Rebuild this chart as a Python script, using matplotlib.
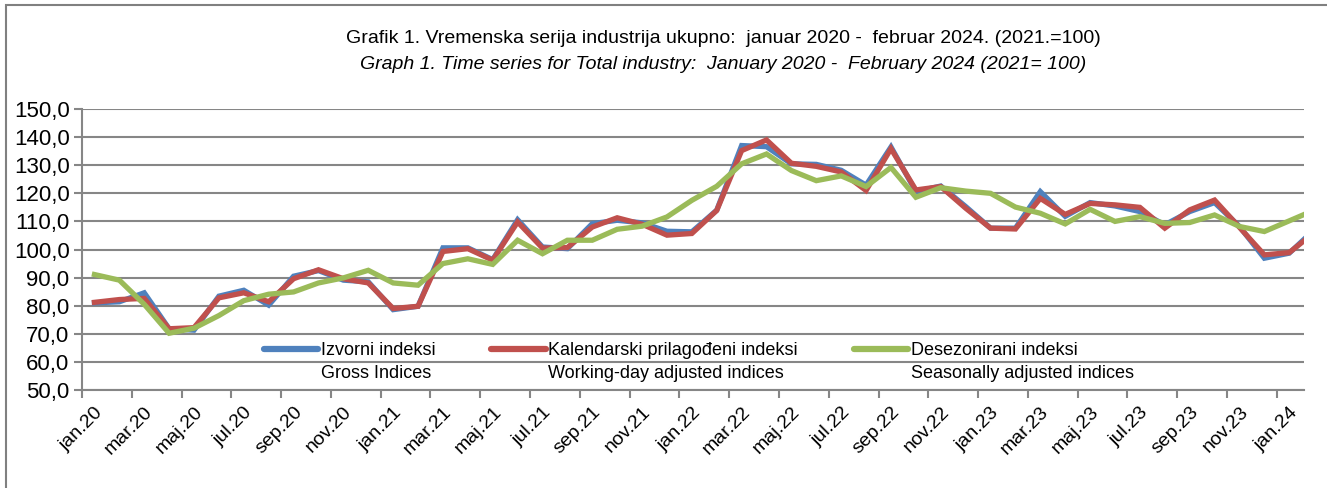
import numpy as np
import matplotlib
matplotlib.use("Agg")
import matplotlib.pyplot as plt
from matplotlib.patches import Rectangle

plt.rcParams['font.family'] = ['Liberation Sans Narrow', 'Liberation Sans', 'DejaVu Sans']

# mjeseci jan.2020 - feb.2024
months = ['jan', 'feb', 'mar', 'apr', 'maj', 'jun', 'jul', 'avg', 'sep', 'okt', 'nov', 'dec']
labels = [f"{m}.{y % 100:02d}" for y in range(2020, 2025) for m in months][:50]

gross = [81.0, 81.4, 84.6, 71.8, 71.3, 83.4, 85.5, 80.2, 90.5, 92.5,
         89.1, 88.5, 78.6, 79.8, 100.6, 100.6, 96.4, 110.6, 100.9, 100.3,
         109.2, 110.4, 109.5, 106.5, 106.3, 114.0, 137.0, 136.6, 130.5, 130.3,
         128.2, 122.9, 136.5, 120.6, 122.6, 115.3, 107.6, 107.6, 120.6, 111.8,
         116.7, 115.5, 113.5, 108.8, 113.5, 116.7, 108.2, 96.9, 98.7, 107.0]
workday = [81.2, 82.2, 82.6, 71.8, 72.2, 82.8, 84.6, 81.4, 89.6, 92.8,
           89.6, 88.1, 79.0, 79.8, 99.3, 100.3, 96.2, 109.8, 100.5, 100.7,
           108.0, 111.3, 109.0, 105.1, 105.7, 113.9, 135.2, 139.0, 130.7, 129.6,
           127.6, 121.0, 135.9, 121.2, 122.4, 114.7, 107.6, 107.3, 118.2, 112.5,
           116.4, 115.9, 115.0, 107.6, 114.1, 117.6, 107.9, 98.1, 98.9, 106.0]
seasonal = [91.1, 89.1, 80.5, 70.2, 72.0, 76.5, 81.8, 84.1, 84.9, 88.1,
            89.9, 92.6, 88.1, 87.3, 95.0, 96.7, 94.7, 103.3, 98.5, 103.3,
            103.3, 107.2, 108.3, 111.6, 117.5, 122.5, 130.5, 134.0, 128.1, 124.5,
            126.2, 122.4, 129.2, 118.6, 122.0, 120.8, 120.0, 115.1, 112.9, 109.1,
            114.3, 110.0, 111.7, 109.3, 109.6, 112.3, 108.2, 106.4, 110.2, 114.0]

names_sr = ['Izvorni indeksi', 'Kalendarski prilagođeni indeksi', 'Desezonirani indeksi']
names_en = ['Gross Indices', 'Working-day adjusted indices', 'Seasonally adjusted indices']
colors = ['#4F81BD', '#C0504D', '#9BBB59']

fig = plt.figure(figsize=(13.27, 4.88), dpi=100)
ax = fig.add_axes([0.0618, 0.2008, 0.921, 0.5758])

x = np.arange(len(labels))
for s, c, n in zip([gross, workday, seasonal], colors, names_sr):
    ax.plot(x, s, color=c, lw=3.8, label=n, solid_joinstyle='miter', zorder=3)

ax.set_xlim(-0.5, 48.6)
ax.set_ylim(50, 150)
ax.set_yticks(np.arange(50, 151, 10))
ax.set_yticklabels([f"{v:.1f}".replace('.', ',') for v in np.arange(50, 151, 10)], fontsize=16)
ax.yaxis.grid(True, color='#868686', lw=1.5)
ax.set_axisbelow(True)

ax.set_xticks(np.arange(-0.5, 49, 2))
ax.set_xticklabels([])
ax.set_xticks(x[::2][:25], minor=True)
ax.set_xticklabels(labels[::2][:25], minor=True, rotation=45, ha='right', va='top',
                   rotation_mode='anchor', fontsize=14)
ax.tick_params(axis='x', which='major', length=6, width=1.5, color='#868686')
ax.tick_params(axis='x', which='minor', length=0, pad=10)
ax.tick_params(axis='y', length=6, width=1.5, color='#868686', pad=3)

for sp in ['top', 'right']:
    ax.spines[sp].set_visible(False)
for sp in ['left', 'bottom']:
    ax.spines[sp].set_color('#868686')
    ax.spines[sp].set_linewidth(1.5)

leg = ax.legend(loc='upper left', bbox_to_anchor=(0.143, 0.195), ncol=3, frameon=False,
                fontsize=13, handlelength=3.0, handletextpad=0.15, columnspacing=3.1,
                borderaxespad=0)
for ln in leg.get_lines():
    ln.set_linewidth(4.5)
    ln.set_solid_capstyle('round')

fig.canvas.draw()
inv = fig.transFigure.inverted()
for t, en in zip(leg.get_texts(), names_en):
    bb = t.get_window_extent()
    x0, y0 = inv.transform((bb.x0, bb.y0))
    fig.text(x0, y0 - 0.012, en, fontsize=13, ha='left', va='top')

fig.text(0.545, 0.922, 'Grafik 1. Vremenska serija industrija ukupno:  januar 2020 -  februar 2024. (2021.=100)',
         ha='center', va='center', fontsize=14)
fig.text(0.545, 0.868, 'Graph 1. Time series for Total industry:  January 2020 -  February 2024 (2021= 100)',
         ha='center', va='center', fontsize=14, style='italic')

fig.patches.append(Rectangle((6 / 1327, -0.1), 1.2, 1 - 5 / 488 + 0.1, transform=fig.transFigure,
                             fill=False, edgecolor='#808080', lw=1.5))

fig.savefig('out.png', dpi=100)
